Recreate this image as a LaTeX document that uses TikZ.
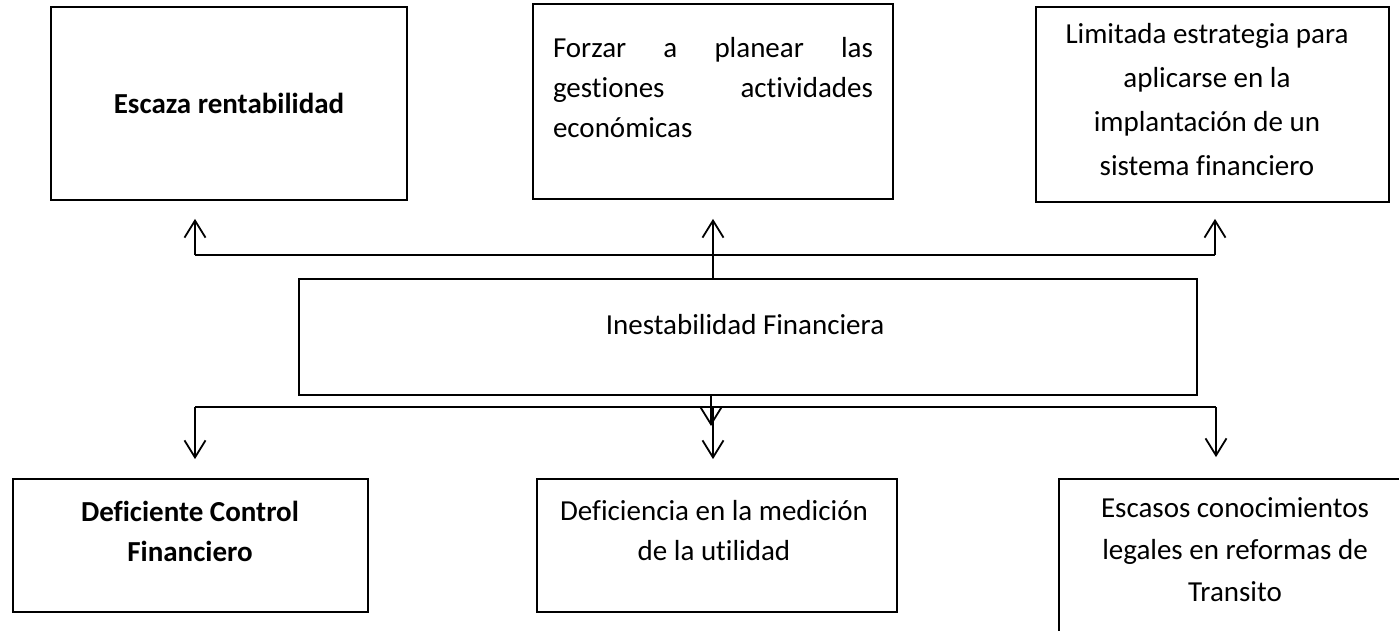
\documentclass[tikz,border=0pt]{standalone}
\usepackage{fontspec}
\setmainfont{Carlito}[Ligatures={NoCommon}]
\usetikzlibrary{arrows.meta}

\begin{document}
\begin{tikzpicture}[x=1pt,y=-1pt,line width=1.8pt,
    caja/.style={draw,inner sep=0pt},
    texto/.style={font=\fontsize{29}{42}\selectfont,align=center,inner sep=0pt},
    flecha/.style={-{Straight Barb[length=17pt,width=21pt]}}]
        \useasboundingbox (0,0) rectangle (1399,631);
        \clip (0,0) rectangle (1399,631);
        % cajas de arriba
        \draw (229,103.5)  node[caja,minimum width=356pt,minimum height=193pt] (ren) {};
        \draw (713,101.5)  node[caja,minimum width=360pt,minimum height=195pt] (pla) {};
        \draw (1212.5,104.5) node[caja,minimum width=353pt,minimum height=195pt] (est) {};
        % problema central
        \draw (748,337)    node[caja,minimum width=898pt,minimum height=116pt] (ine) {};
        % cajas de abajo
        \draw (190.5,545.5) node[caja,minimum width=355pt,minimum height=133pt] (con) {};
        \draw (717,545.5)   node[caja,minimum width=360pt,minimum height=133pt] (med) {};
        \draw (1236.5,559)  node[caja,minimum width=355pt,minimum height=160pt] (leg) {};
        % textos
        \node[texto,font=\fontsize{29}{42}\selectfont\bfseries] (tren) at (229,103) {Escaza rentabilidad};
        \node[texto,align=justify,text width=320pt,font=\fontsize{29}{40}\selectfont] (tpla) at (713,88)
            {Forzar a planear las\linebreak gestiones actividades\linebreak económicas};
        \node[texto,font=\fontsize{29}{44}\selectfont] (test) at (1207,100)
            {Limitada estrategia para\\aplicarse en la\\implantación de un\\sistema financiero};
        \node[texto] (tine) at (745,325) {Inestabilidad Financiera};
        \node[texto,font=\fontsize{29}{40}\selectfont\bfseries] (tcon) at (190,531) {Deficiente Control\\Financiero};
        \node[texto,font=\fontsize{29}{40}\selectfont] (tmed) at (714,531) {Deficiencia en la medición\\de la utilidad};
        \node[texto] (tleg) at (1235,550) {Escasos conocimientos\\legales en reformas de\\Transito};
        % uniones
        \coordinate (s1) at (195,255);
        \coordinate (s2) at (713,255);
        \coordinate (s3) at (1215,255);
        \coordinate (i1) at (195,407);
        \coordinate (i2) at (713,407);
        \coordinate (i3) at (1216,407);
        \coordinate (i0) at (711,426);
        \draw (s1) -- (s3);
        \draw[flecha,shorten >=18pt] (s1) -- (s1 |- ren.south);
        \draw[flecha,shorten >=19pt] (ine.north -| s2) -- (s2 |- pla.south);
        \draw[flecha,shorten >=16pt] (s3) -- (s3 |- est.south);
        \draw (i1) -- (i3);
        \draw[flecha] (ine.south -| i0) -- (i0);
        \draw[flecha,shorten >=19pt] (i1) -- (i1 |- con.north);
        \draw[flecha,shorten >=19pt] (i2) -- (i2 |- med.north);
        \draw[flecha,shorten >=21pt] (i3) -- (i3 |- leg.north);
\end{tikzpicture}
\end{document}
